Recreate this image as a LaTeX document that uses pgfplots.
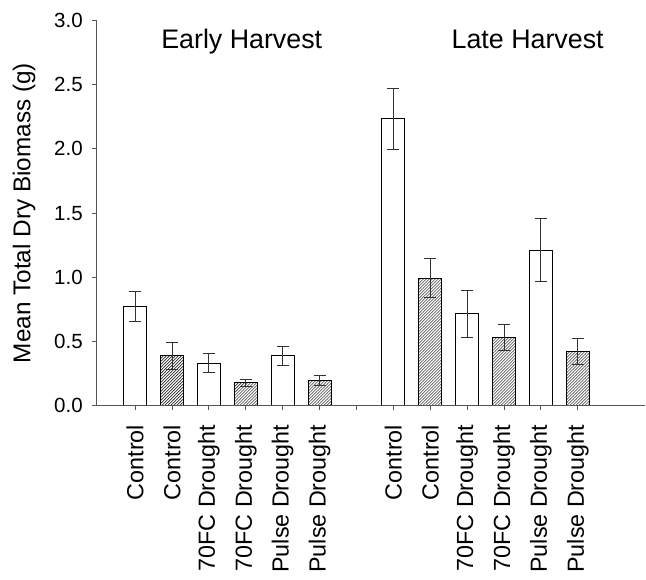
\documentclass[border=0pt]{standalone}
\usepackage{fontspec}
\setmainfont{Liberation Sans}
\usepackage{pgfplots}
\pgfplotsset{compat=1.18}
\usetikzlibrary{patterns}
\definecolor{axgray}{RGB}{85,85,85}
\definecolor{errgray}{RGB}{50,50,50}
\begin{document}
\begin{tikzpicture}
\begin{axis}[
  name=ax,
  scale only axis,
  width=548pt, height=385.4pt,
  xmin=-1.04, xmax=13.82,
  ymin=0, ymax=3,
  axis line style={draw=none},
  xtick pos=left, ytick pos=left,
  tick style={axgray, line width=1pt},
  tick align=outside,
  major tick length=4.5pt,
  minor tick num=0,
  xtick={0,...,12},
  xticklabels={Control,Control,70FC Drought,70FC Drought,Pulse Drought,Pulse Drought,{},Control,Control,70FC Drought,70FC Drought,Pulse Drought,Pulse Drought},
  x tick label style={rotate=90, anchor=east, font=\fontsize{23.3}{27}\selectfont, xshift=-11pt},
  ytick={0,0.5,...,3.0},
  y tick label style={font=\fontsize{20.5}{24}\selectfont, xshift=-6pt},
  /pgf/number format/assume math mode=true,
  yticklabel style={/pgf/number format/.cd, fixed, fixed zerofill, precision=1},
  ylabel={Mean Total Dry Biomass (g)},
  ylabel style={font=\fontsize{24.3}{28}\selectfont},
  ylabel shift=12pt,
  clip=false,
]
\addplot[ybar, bar width=23pt, bar shift=0pt, draw=black, line width=1pt, fill=white,
  error bars/.cd, y dir=both, y explicit,
  error bar style={errgray, line width=1pt},
  error mark options={rotate=90, mark size=6pt, errgray, line width=1pt}]
coordinates {
  (0,0.773) +- (0,0.118)
  (2,0.332) +- (0,0.072)
  (4,0.389) +- (0,0.072)
  (7,2.233) +- (0,0.239)
  (9,0.716) +- (0,0.182)
  (11,1.212) +- (0,0.243)
};
\addplot[ybar, bar width=23pt, bar shift=0pt, draw=black, line width=1pt, pattern=north east lines, pattern color=black,
  error bars/.cd, y dir=both, y explicit,
  error bar style={errgray, line width=1pt},
  error mark options={rotate=90, mark size=6pt, errgray, line width=1pt}]
coordinates {
  (1,0.389) +- (0,0.106)
  (3,0.179) +- (0,0.026)
  (5,0.195) +- (0,0.038)
  (8,0.994) +- (0,0.153)
  (10,0.532) +- (0,0.103)
  (12,0.423) +- (0,0.100)
};
\node[anchor=base, font=\fontsize{26.8}{31}\selectfont] at (axis cs:2.89,2.78) {Early Harvest};
\node[anchor=base, font=\fontsize{26.8}{31}\selectfont] at (axis cs:10.64,2.78) {Late Harvest};
\end{axis}
\draw[axgray, line width=1pt] (ax.north west) -- (ax.south west) -- (ax.south east);
\pgfresetboundingbox
\path[use as bounding box] ([xshift=-96.7pt, yshift=-173.3pt]ax.south west) rectangle ([xshift=1pt, yshift=20.3pt]ax.north east);
\end{tikzpicture}
\end{document}
